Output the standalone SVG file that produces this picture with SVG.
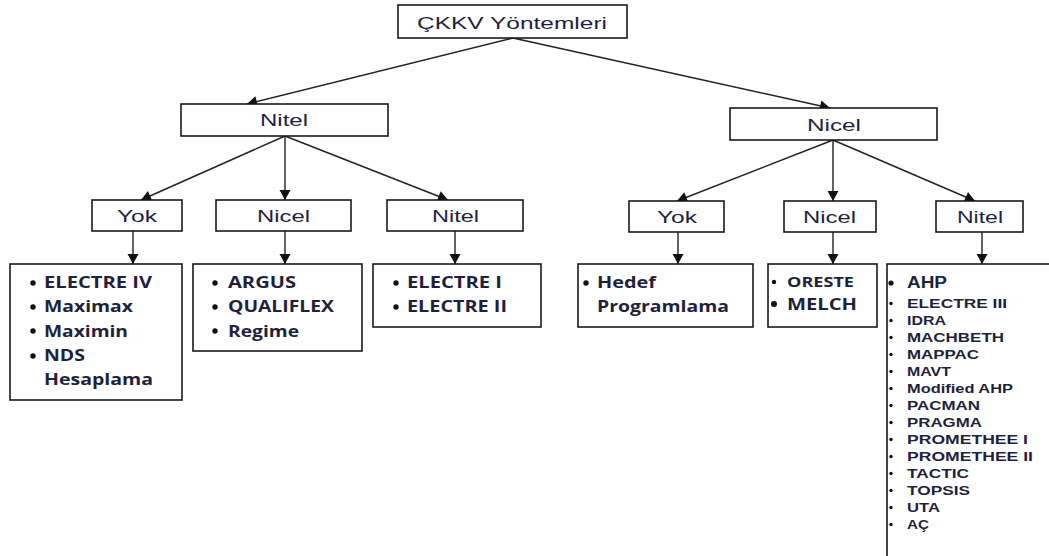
<svg xmlns="http://www.w3.org/2000/svg" width="1049" height="556" viewBox="0 0 1049 556">
<style>
.box{fill:#fff;stroke:#1a1a1a;stroke-width:1.6}
.lbl{font-family:"Liberation Sans",Arial,sans-serif;font-size:17px;fill:#1f1f40}
.li{font-family:"Open Sans","Liberation Sans",sans-serif;font-weight:700;font-size:16.5px;fill:#1f1f40}
.sm{font-family:"Liberation Sans",Arial,sans-serif;font-weight:700;font-size:12.5px;fill:#1f1f40}
.big{font-family:"Liberation Sans",Arial,sans-serif;font-weight:700;font-size:16px;fill:#1f1f40}
.dot{fill:#111}
.con line{stroke:#222;stroke-width:1.4;marker-end:url(#ah)}
</style>
<defs>
<marker id="ah" markerUnits="userSpaceOnUse" markerWidth="12" markerHeight="12" viewBox="0 0 10 12" refX="10" refY="6" orient="auto">
<path d="M0,0.5 L10,6 L0,11.5 z" fill="#111"/>
</marker>
</defs>
<rect width="1049" height="556" fill="#fff"/>
<g id="connectors" class="con">
<line x1="513" y1="38" x2="247" y2="104"/>
<line x1="513" y1="38" x2="830" y2="108"/>
<line x1="285" y1="136" x2="141" y2="200"/>
<line x1="285" y1="136" x2="285" y2="200"/>
<line x1="285" y1="136" x2="448" y2="200"/>
<line x1="833" y1="140" x2="677" y2="201"/>
<line x1="833" y1="140" x2="833" y2="201"/>
<line x1="833" y1="140" x2="975" y2="201"/>
<line x1="133" y1="231" x2="133" y2="264"/>
<line x1="285" y1="231" x2="285" y2="264"/>
<line x1="455" y1="231" x2="455" y2="264"/>
<line x1="678" y1="232" x2="678" y2="264"/>
<line x1="833" y1="232" x2="833" y2="264"/>
<line x1="982" y1="232" x2="982" y2="264"/>
</g>
<g id="root">
<rect class="box" x="398" y="5" width="229" height="33"/>
<text class="lbl" x="417" y="29" textLength="190" lengthAdjust="spacingAndGlyphs">ÇKKV Yöntemleri</text>
</g>
<g id="nitel1">
<rect class="box" x="181" y="104" width="207" height="32"/>
<text class="lbl" x="260" y="126" textLength="48" lengthAdjust="spacingAndGlyphs">Nitel</text>
</g>
<g id="nicel1">
<rect class="box" x="730" y="108" width="207" height="32"/>
<text class="lbl" x="807" y="131" textLength="54" lengthAdjust="spacingAndGlyphs">Nicel</text>
</g>
<g id="yok-l">
<rect class="box" x="92" y="200" width="90" height="31"/>
<text class="lbl" x="117" y="222" textLength="40" lengthAdjust="spacingAndGlyphs">Yok</text>
</g>
<g id="nicel-l">
<rect class="box" x="216" y="200" width="135" height="31"/>
<text class="lbl" x="257" y="222" textLength="53" lengthAdjust="spacingAndGlyphs">Nicel</text>
</g>
<g id="nitel-l">
<rect class="box" x="387" y="200" width="136" height="31"/>
<text class="lbl" x="432" y="222" textLength="47" lengthAdjust="spacingAndGlyphs">Nitel</text>
</g>
<g id="yok-r">
<rect class="box" x="629" y="201" width="95" height="31"/>
<text class="lbl" x="657" y="223" textLength="40" lengthAdjust="spacingAndGlyphs">Yok</text>
</g>
<g id="nicel-r">
<rect class="box" x="784" y="201" width="92" height="31"/>
<text class="lbl" x="803" y="223" textLength="53" lengthAdjust="spacingAndGlyphs">Nicel</text>
</g>
<g id="nitel-r">
<rect class="box" x="936" y="201" width="87" height="31"/>
<text class="lbl" x="957" y="223" textLength="46" lengthAdjust="spacingAndGlyphs">Nitel</text>
</g>
<g id="list-yok-l">
<rect class="box" x="10" y="264" width="172" height="136"/>
<circle class="dot" cx="33" cy="283" r="2.7"/>
<circle class="dot" cx="33" cy="307" r="2.7"/>
<circle class="dot" cx="33" cy="331" r="2.7"/>
<circle class="dot" cx="33" cy="356" r="2.7"/>
<text class="li" x="44" y="288" textLength="108" lengthAdjust="spacingAndGlyphs">ELECTRE IV</text>
<text class="li" x="44" y="312" textLength="89" lengthAdjust="spacingAndGlyphs">Maximax</text>
<text class="li" x="44" y="337" textLength="84" lengthAdjust="spacingAndGlyphs">Maximin</text>
<text class="li" x="44" y="361" textLength="41" lengthAdjust="spacingAndGlyphs">NDS</text>
<text class="li" x="44" y="385" textLength="109" lengthAdjust="spacingAndGlyphs">Hesaplama</text>
</g>
<g id="list-nicel-l">
<rect class="box" x="193" y="264" width="169" height="87"/>
<circle class="dot" cx="215" cy="283" r="2.7"/>
<circle class="dot" cx="215" cy="307" r="2.7"/>
<circle class="dot" cx="215" cy="331" r="2.7"/>
<text class="li" x="228" y="288" textLength="68" lengthAdjust="spacingAndGlyphs">ARGUS</text>
<text class="li" x="228" y="312" textLength="106" lengthAdjust="spacingAndGlyphs">QUALIFLEX</text>
<text class="li" x="228" y="337" textLength="71" lengthAdjust="spacingAndGlyphs">Regime</text>
</g>
<g id="list-nitel-l">
<rect class="box" x="373" y="264" width="168" height="63"/>
<circle class="dot" cx="396" cy="283" r="2.7"/>
<circle class="dot" cx="396" cy="307" r="2.7"/>
<text class="li" x="407" y="288" textLength="95" lengthAdjust="spacingAndGlyphs">ELECTRE I</text>
<text class="li" x="407" y="312" textLength="100" lengthAdjust="spacingAndGlyphs">ELECTRE II</text>
</g>
<g id="list-yok-r">
<rect class="box" x="578" y="264" width="175" height="63"/>
<circle class="dot" cx="586" cy="283" r="2.7"/>
<text class="li" x="597" y="288" textLength="59" lengthAdjust="spacingAndGlyphs">Hedef</text>
<text class="li" x="597" y="312" textLength="132" lengthAdjust="spacingAndGlyphs">Programlama</text>
</g>
<g id="list-nicel-r">
<rect class="box" x="768" y="264" width="109" height="63"/>
<circle class="dot" cx="774" cy="282" r="2.2"/>
<circle class="dot" cx="774" cy="304" r="3"/>
<text class="li" x="787" y="287" style="font-size:15px" textLength="67" lengthAdjust="spacingAndGlyphs">ORESTE</text>
<text class="li" x="787" y="310" textLength="70" lengthAdjust="spacingAndGlyphs">MELCH</text>
</g>
<g id="list-nitel-r">
<rect class="box" x="887" y="264" width="200" height="320"/>
<circle class="dot" cx="891" cy="283" r="2.6"/>
<text class="big" x="907" y="288" textLength="40" lengthAdjust="spacingAndGlyphs">AHP</text>
<g class="dot">
<circle cx="891" cy="303.5" r="1.7"/><circle cx="891" cy="320.5" r="1.7"/><circle cx="891" cy="337.5" r="1.7"/><circle cx="891" cy="354.5" r="1.7"/><circle cx="891" cy="371.5" r="1.7"/><circle cx="891" cy="388.5" r="1.7"/><circle cx="891" cy="405.5" r="1.7"/><circle cx="891" cy="422.5" r="1.7"/><circle cx="891" cy="439.5" r="1.7"/><circle cx="891" cy="456.5" r="1.7"/><circle cx="891" cy="473.5" r="1.7"/><circle cx="891" cy="490.5" r="1.7"/><circle cx="891" cy="507.5" r="1.7"/><circle cx="891" cy="524.5" r="1.7"/>
</g>
<text class="sm" x="907" y="308" textLength="100" lengthAdjust="spacingAndGlyphs">ELECTRE III</text>
<text class="sm" x="907" y="325" textLength="39" lengthAdjust="spacingAndGlyphs">IDRA</text>
<text class="sm" x="907" y="342" textLength="97" lengthAdjust="spacingAndGlyphs">MACHBETH</text>
<text class="sm" x="907" y="359" textLength="72" lengthAdjust="spacingAndGlyphs">MAPPAC</text>
<text class="sm" x="907" y="376" textLength="44" lengthAdjust="spacingAndGlyphs">MAVT</text>
<text class="sm" x="907" y="393" textLength="106" lengthAdjust="spacingAndGlyphs">Modified AHP</text>
<text class="sm" x="907" y="410" textLength="73" lengthAdjust="spacingAndGlyphs">PACMAN</text>
<text class="sm" x="907" y="427" textLength="75" lengthAdjust="spacingAndGlyphs">PRAGMA</text>
<text class="sm" x="907" y="444" textLength="121" lengthAdjust="spacingAndGlyphs">PROMETHEE I</text>
<text class="sm" x="907" y="461" textLength="126" lengthAdjust="spacingAndGlyphs">PROMETHEE II</text>
<text class="sm" x="907" y="478" textLength="62" lengthAdjust="spacingAndGlyphs">TACTIC</text>
<text class="sm" x="907" y="495" textLength="63" lengthAdjust="spacingAndGlyphs">TOPSIS</text>
<text class="sm" x="907" y="512" textLength="33" lengthAdjust="spacingAndGlyphs">UTA</text>
<text class="sm" x="907" y="529" textLength="22" lengthAdjust="spacingAndGlyphs">AÇ</text>
</g>
</svg>
